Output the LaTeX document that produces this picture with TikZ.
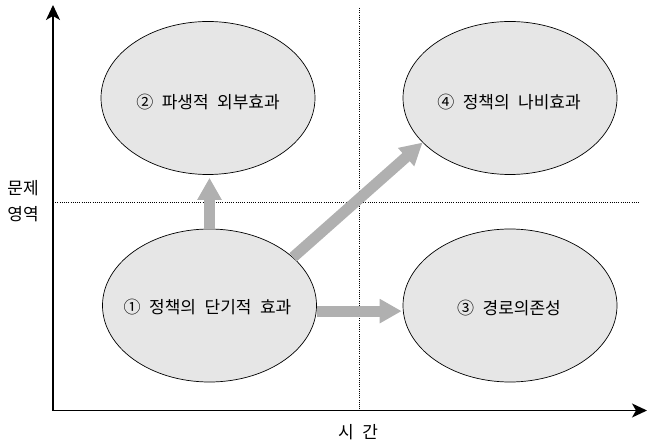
\documentclass[tikz,border=0pt]{standalone}
\usepackage{fontspec}
\setmainfont{Noto Sans CJK KR}
\usetikzlibrary{shapes.geometric,arrows.meta}
\definecolor{arrowgray}{RGB}{176,176,176}
\definecolor{ellfill}{RGB}{230,230,230}
\newcommand{\mylblfont}{\fontsize{17}{20}\selectfont\spaceskip=0.5em plus 0pt minus 0pt\relax}
\tikzset{
  ell/.style={ellipse,draw=black,line width=0.7pt,fill=ellfill,minimum width=214pt,minimum height=153pt,inner sep=0pt},
  lbl/.style={font=\mylblfont,inner sep=0pt,anchor=center},
  fatarrow/.style={draw=arrowgray,line width=11pt,-{Triangle[width=23pt,length=22pt]},color=arrowgray},
  axis/.style={line width=1.3pt,-{Stealth[length=15pt,width=14pt,inset=4pt]}},
  guide/.style={line width=0.8pt,dash pattern=on 1pt off 1.2pt}
}
\begin{document}
\begin{tikzpicture}[x=1pt,y=-1pt]
\useasboundingbox (0,0) rectangle (647,443);
% guides
\coordinate (vtop) at (359,8);
\coordinate (vbot) at (359,410);
\coordinate (hl) at (53,202);
\coordinate (hr) at (640,202);
\draw[guide] (vtop) -- (vbot);
\draw[guide] (hl) -- (hr);
% axes
\coordinate (O) at (53,410.5);
\coordinate (Ytop) at (53,5);
\coordinate (Xend) at (647,410.5);
\draw[axis] (O) -- (Ytop);
\draw[axis] (O) -- (Xend);
% ellipses
\node[ell] (n2) at (208,98) {};
\node[ell] (n4) at (510,98) {};
\node[ell] (n1) at (209.5,305.5) {};
\node[ell] (n3) at (510,305.5) {};
\node[lbl] (t2) at (208,102) {② 파생적 외부효과};
\node[lbl] (t4) at (509,102) {④ 정책의 나비효과};
\node[lbl] (t1) at (207.5,307.5) {① 정책의 단기적 효과};
\node[lbl] (t3) at (509,308) {③ 경로의존성};
% arrows
\draw[fatarrow,shorten >=3pt] (n1.north) -- (n1.north |- n2.south);
\draw[fatarrow,shorten >=1pt] (n1.-3) -- (n1.-3 -| n3.west);
\draw[fatarrow] (n1.30) -- (n4.207);
% axis labels
\node[lbl] (ylab1) at (23,188) {문제};
\node[lbl] (ylab2) at (23,214) {영역};
\node[lbl] (xlab) at (358,432) {시 간};
\end{tikzpicture}
\end{document}
